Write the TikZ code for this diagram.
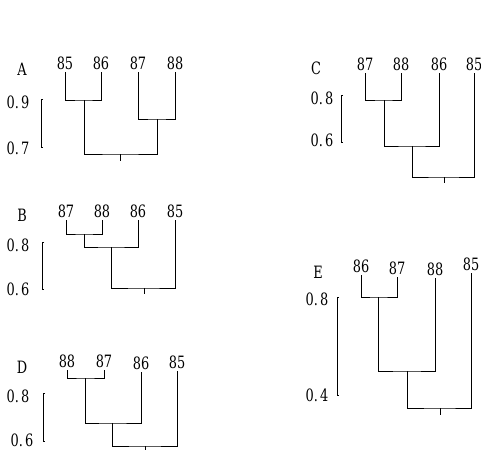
\documentclass[tikz,border=0pt]{standalone}
\usepackage{graphicx}
\usepackage{fontspec}
\setmainfont{DejaVu Serif}
\newcommand{\lbtxt}[1]{\scalebox{0.76}[1]{\fontsize{17}{17}\selectfont #1}}
\tikzset{
  lbl/.style={inner xsep=0pt, inner ysep=2.5pt, font=\fontsize{17}{17}\selectfont},
  dend/.style={line width=0.8pt, black},
  bar/.style={line width=0.7pt, black},
}
\begin{document}
\begin{tikzpicture}[x=1pt,y=-1pt]
\useasboundingbox (0,0) rectangle (481,450);

% ---------- Panel A ----------
\node[lbl] (A) at (22,69) {\lbtxt{A}};
\node[lbl] (A85) at (65,63) {\lbtxt{85}};
\node[lbl] (A86) at (101,63) {\lbtxt{86}};
\node[lbl] (A87) at (138,63) {\lbtxt{87}};
\node[lbl] (A88) at (175,63) {\lbtxt{88}};
\coordinate (A1) at (84,100);
\coordinate (A2) at (157,119);
\coordinate (A3) at (120,154);
\coordinate (A3t) at (120,161);
\draw[dend] (A85.south) |- (A1) -| (A86.south);
\draw[dend] (A87.south) |- (A2) -| (A88.south);
\draw[dend] (A1) |- (A3) -| (A2);
\draw[dend] (A3) -- (A3t);
\node[lbl] (As1) at (18,102) {\lbtxt{0.\,9}};
\node[lbl] (As2) at (18,148) {\lbtxt{0.\,7}};
\coordinate (Ab1) at (41,99);
\coordinate (Ab2) at (41,147);
\draw[bar] ([xshift=2]Ab1) -- (Ab1) -- (Ab2) -- ([xshift=2]Ab2);

% ---------- Panel B ----------
\node[lbl] (B) at (22,215) {\lbtxt{B}};
\node[lbl] (B87) at (66,211) {\lbtxt{87}};
\node[lbl] (B88) at (102,211) {\lbtxt{88}};
\node[lbl] (B86) at (138,211) {\lbtxt{86}};
\node[lbl] (B85) at (175,211) {\lbtxt{85}};
\coordinate (B1) at (84,234);
\coordinate (B2) at (111,247);
\coordinate (B3) at (144,288);
\coordinate (B3t) at (144,294);
\draw[dend] (B87.south) |- (B1) -| (B88.south);
\draw[dend] (B1) |- (B2) -| (B86.south);
\draw[dend] (B2) |- (B3) -| (B85.south);
\draw[dend] (B3) -- (B3t);
\node[lbl] (Bs1) at (18,245) {\lbtxt{0.\,8}};
\node[lbl] (Bs2) at (18,289) {\lbtxt{0.\,6}};
\coordinate (Bb1) at (42,242);
\coordinate (Bb2) at (42,289);
\draw[bar] ([xshift=2]Bb1) -- (Bb1) -- (Bb2) -- ([xshift=2]Bb2);

% ---------- Panel C ----------
\node[lbl] (C) at (316,68) {\lbtxt{C}};
\node[lbl] (C87) at (365,64) {\lbtxt{87}};
\node[lbl] (C88) at (401,64) {\lbtxt{88}};
\node[lbl] (C86) at (439,64) {\lbtxt{86}};
\node[lbl] (C85) at (474,64) {\lbtxt{85}};
\coordinate (C1) at (384,100);
\coordinate (C2) at (412,146);
\coordinate (C3) at (444,177);
\coordinate (C3t) at (444,183);
\draw[dend] (C87.south) |- (C1) -| (C88.south);
\draw[dend] (C1) |- (C2) -| (C86.south);
\draw[dend] (C2) |- (C3) -| (C85.south);
\draw[dend] (C3) -- (C3t);
\node[lbl] (Cs1) at (322,98) {\lbtxt{0.\,8}};
\node[lbl] (Cs2) at (322,140) {\lbtxt{0.\,6}};
\coordinate (Cb1) at (341,95);
\coordinate (Cb2) at (341,142);
\draw[bar] ([xshift=2]Cb1) -- (Cb1) -- (Cb2) -- ([xshift=2]Cb2);

% ---------- Panel D ----------
\node[lbl] (D) at (22,367) {\lbtxt{D}};
\node[lbl] (D88) at (67,361) {\lbtxt{88}};
\node[lbl] (D87) at (104,361) {\lbtxt{87}};
\node[lbl] (D86) at (141,363) {\lbtxt{86}};
\node[lbl] (D85) at (177,362) {\lbtxt{85}};
\coordinate (D1) at (85,378);
\coordinate (D2) at (112,423);
\coordinate (D3) at (145,446);
\coordinate (D3t) at (145,450);
\draw[dend] (D88.south) |- (D1) -| (D87.south);
\draw[dend] (D1) |- (D2) -| (D86.south);
\draw[dend] (D2) |- (D3) -| (D85.south);
\draw[dend] (D3) -- (D3t);
\node[lbl] (Ds1) at (18,396) {\lbtxt{0.\,8}};
\node[lbl] (Ds2) at (22,440) {\lbtxt{0.\,6}};
\coordinate (Db1) at (43,393);
\coordinate (Db2) at (43,441);
\draw[bar] ([xshift=2]Db1) -- (Db1) -- (Db2) -- ([xshift=2]Db2);

% ---------- Panel E ----------
\node[lbl] (E) at (318,272) {\lbtxt{E}};
\node[lbl] (E86) at (361,266) {\lbtxt{86}};
\node[lbl] (E87) at (397,268) {\lbtxt{87}};
\node[lbl] (E88) at (435,269) {\lbtxt{88}};
\node[lbl] (E85) at (471,264) {\lbtxt{85}};
\coordinate (E1) at (378,297);
\coordinate (E2) at (407,371);
\coordinate (E3) at (440,408);
\coordinate (E3t) at (440,415);
\draw[dend] (E86.south) |- (E1) -| (E87.south);
\draw[dend] (E1) |- (E2) -| (E88.south);
\draw[dend] (E2) |- (E3) -| (E85.south);
\draw[dend] (E3) -- (E3t);
\node[lbl] (Es1) at (317,299) {\lbtxt{0.\,8}};
\node[lbl] (Es2) at (317,395) {\lbtxt{0.\,4}};
\coordinate (Eb1) at (337,297);
\coordinate (Eb2) at (337,395);
\draw[bar] ([xshift=2]Eb1) -- (Eb1) -- (Eb2) -- ([xshift=2]Eb2);
\end{tikzpicture}
\end{document}
